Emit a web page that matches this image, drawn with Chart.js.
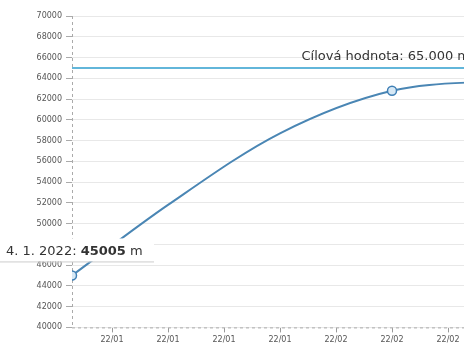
<!DOCTYPE html>
<html>
<head>
<meta charset="utf-8">
<script src="https://cdn.jsdelivr.net/npm/chart.js@4"></script>
<style>
  html, body { margin: 0; padding: 0; background: #fff; overflow: hidden; }
  #wrap { width: 480px; height: 348px; }
</style>
</head>
<body>
<div id="wrap"><canvas id="chart"></canvas></div>
<script>
// hodnoty
const dates = ['2022-01-04', '2022-01-16', '2022-01-30', '2022-02-13', '2022-02-27'];
const distances = [45005, 51800, 58700, 62800, 63800];
const markedPoints = [0, 3];
const tickDates = ['2022-01-09', '2022-01-16', '2022-01-23', '2022-01-30', '2022-02-06', '2022-02-13', '2022-02-20'];
const targetValue = 65000;
const targetLabel = 'Cílová hodnota: 65.000 m';
const tooltipDate = '4. 1. 2022';

const FONT = '"DejaVu Sans", Verdana, sans-serif';
const dayOf = d => (Date.parse(d) - Date.parse('2022-01-01')) / 864e5 + 1;

const points = dates.map((d, i) => ({ x: dayOf(d), y: distances[i] }));
const radii = dates.map((d, i) => markedPoints.includes(i) ? 4.5 : 0);

// čárkované osy
const axesPlugin = {
    id: 'dashedAxes',
    beforeDatasetsDraw(chart) {
        const ctx = chart.ctx;
        const a = chart.chartArea;
        ctx.save();
        ctx.strokeStyle = '#aaa';
        ctx.lineWidth = 1;
        ctx.setLineDash([3, 3]);
        ctx.beginPath();
        ctx.moveTo(a.left + 0.5, a.top);
        ctx.lineTo(a.left + 0.5, a.bottom);
        ctx.moveTo(a.left, a.bottom + 0.5);
        ctx.lineTo(a.right, a.bottom + 0.5);
        ctx.stroke();
        ctx.restore();
    }
};

const targetPlugin = {
    id: 'target',
    afterDatasetsDraw(chart) {
        const ctx = chart.ctx;
        const area = chart.chartArea;
        const y = chart.scales.y.getPixelForValue(targetValue);
        ctx.save();
        ctx.strokeStyle = '#62b6da';
        ctx.lineWidth = 2;
        ctx.beginPath();
        ctx.moveTo(area.left, y);
        ctx.lineTo(area.right, y);
        ctx.stroke();
        ctx.fillStyle = '#333';
        ctx.font = '13px ' + FONT;
        ctx.textAlign = 'right';
        ctx.textBaseline = 'bottom';
        ctx.fillText(targetLabel, area.right - 2, y - 5);

        // popisek prvního bodu
        const px = chart.scales.x.getPixelForValue(points[0].x);
        const py = chart.scales.y.getPixelForValue(points[0].y);
        const top = py - 37, bottom = py - 14;
        ctx.fillStyle = '#fff';
        ctx.fillRect(px - 74, top, 156, bottom - top);
        ctx.strokeStyle = '#ccc';
        ctx.lineWidth = 1;
        ctx.beginPath();
        ctx.moveTo(px - 74, bottom + 0.5);
        ctx.lineTo(px + 82, bottom + 0.5);
        ctx.stroke();
        ctx.textAlign = 'left';
        ctx.textBaseline = 'alphabetic';
        let tx = px - 66;
        const ty = bottom - 6;
        ctx.fillStyle = '#333';
        ctx.font = '13px ' + FONT;
        const part1 = tooltipDate + ': ';
        ctx.fillText(part1, tx, ty);
        tx += ctx.measureText(part1).width;
        ctx.font = 'bold 13px ' + FONT;
        const part2 = String(points[0].y);
        ctx.fillText(part2, tx, ty);
        tx += ctx.measureText(part2).width;
        ctx.font = '13px ' + FONT;
        ctx.fillText(' m', tx, ty);
        ctx.restore();
    }
};

const ctx = document.querySelector('#chart').getContext('2d');
const chart = new Chart(ctx, {
    type: 'line',
    data: {
        datasets: [{
            data: points,
            borderColor: '#4a86b4',
            borderWidth: 2,
            cubicInterpolationMode: 'monotone',
            pointRadius: radii,
            pointBorderWidth: 1.5,
            pointBorderColor: '#3f7fb5',
            pointBackgroundColor: '#d6e8f5',
            fill: false,
        }],
    },
    options: {
        responsive: true,
        maintainAspectRatio: false,
        animation: false,
        layout: { padding: { top: 16, right: 8, left: 0, bottom: 0 } },
        plugins: { legend: { display: false }, tooltip: { enabled: false } },
        scales: {
            x: {
                type: 'linear',
                min: dayOf('2022-01-04'),
                max: dayOf('2022-02-23'),
                afterBuildTicks: axis => { axis.ticks = tickDates.map(d => ({ value: dayOf(d) })); },
                grid: { drawOnChartArea: false, drawTicks: true, tickLength: 5, color: '#999' },
                border: { display: false },
                ticks: {
                    autoSkip: false,
                    maxRotation: 0,
                    padding: 3,
                    color: '#555',
                    font: { size: 8, family: FONT },
                    callback: value => {
                        const dt = new Date(Date.parse('2022-01-01') + (value - 1) * 864e5);
                        const mm = String(dt.getUTCMonth() + 1).padStart(2, '0');
                        return String(dt.getUTCFullYear()).slice(2) + '/' + mm;
                    }
                }
            },
            y: {
                min: 40000,
                max: 70000,
                afterFit: axis => { axis.width = 72; },
                grid: { color: '#e8e8e8', tickLength: 6, tickColor: '#aaa' },
                border: { display: false },
                ticks: {
                    stepSize: 2000,
                    padding: 4,
                    color: '#555',
                    font: { size: 8, family: FONT },
                    callback: value => String(value)
                }
            }
        }
    },
    plugins: [axesPlugin, targetPlugin]
});
</script>
</body>
</html>
